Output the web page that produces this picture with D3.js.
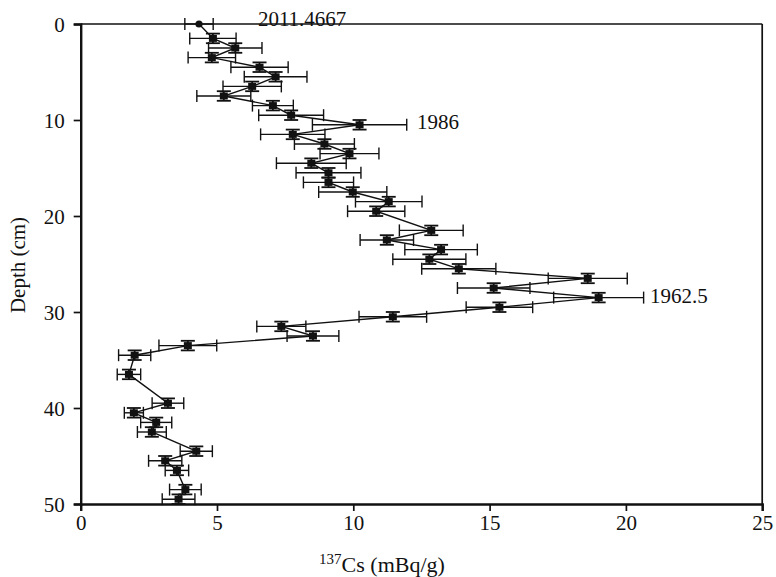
<!DOCTYPE html>
<html>
<head>
<meta charset="utf-8">
<script src="https://cdn.jsdelivr.net/npm/d3@7/dist/d3.min.js"></script>
<style>
  html, body { margin: 0; padding: 0; background: #fff; }
  svg { display: block; }
  text { font-family: "Liberation Serif", "DejaVu Serif", serif; fill: #111; }
</style>
</head>
<body>
<div id="chart"></div>
<script>
// 137Cs activity profile of a sediment core (depth in cm, activity in mBq/g)
const depth = [0, 1.5, 2.5, 3.5, 4.5, 5.5, 6.5, 7.5, 8.5, 9.5, 10.5, 11.5, 12.5, 13.5,
  14.5, 15.5, 16.5, 17.5, 18.5, 19.5, 21.5, 22.5, 23.5, 24.5, 25.5, 26.5, 27.5, 28.5,
  29.5, 30.5, 31.5, 32.5, 33.5, 34.5, 36.5, 39.5, 40.5, 41.5, 42.5, 44.5, 45.5, 46.5,
  48.5, 49.5];
const cs = [4.34, 4.85, 5.67, 4.81, 6.56, 7.15, 6.29, 5.25, 7.05, 7.72, 10.23, 7.78, 8.94, 9.86,
  8.46, 9.09, 9.09, 9.98, 11.3, 10.84, 12.86, 11.23, 13.22, 12.79, 13.87, 18.6, 15.15, 19.0,
  15.36, 11.45, 7.36, 8.52, 3.93, 1.98, 1.77, 3.2, 1.95, 2.77, 2.61, 4.24, 3.1, 3.53,
  3.84, 3.59];
const csErr = [0.52, 0.85, 0.98, 0.87, 1.05, 1.15, 1.07, 0.99, 0.75, 1.19, 1.73, 1.18, 1.1, 1.08,
  1.28, 1.19, 0.92, 1.25, 1.22, 1.05, 1.17, 0.98, 1.33, 1.34, 1.36, 1.45, 1.33, 1.65,
  1.22, 1.24, 0.9, 0.95, 1.06, 0.59, 0.43, 0.58, 0.35, 0.57, 0.53, 0.59, 0.61, 0.43,
  0.58, 0.6];
const depthErr = 0.5;

// dating markers
const markerLabels = ["2011.4667", "1986", "1962.5"];
const markerValue = [6.5, 12.34, 20.88];
const markerDepth = [0.2, 10.9, 29.1];

const xTicks = [0, 5, 10, 15, 20, 25];
const yTicks = [0, 10, 20, 30, 40, 50];

const W = 776, H = 577;
const plotL = 80.7, plotR = 762.2, plotT = 24, plotB = 504;

const svg = d3.select("#chart").append("svg")
  .attr("width", W).attr("height", H);

const x = d3.scaleLinear().domain([0, 25]).range([plotL, plotR]);
const y = d3.scaleLinear().domain([0, 50]).range([plotT, plotB]);

const pts = depth.map((d, i) => ({ d, v: cs[i], e: csErr[i], i }));

// frame: top and right borders
svg.append("line").attr("x1", plotL).attr("x2", plotR).attr("y1", plotT).attr("y2", plotT)
  .attr("stroke", "#111").attr("stroke-width", 1.7);
svg.append("line").attr("x1", plotR).attr("x2", plotR).attr("y1", plotT).attr("y2", plotB)
  .attr("stroke", "#111").attr("stroke-width", 1.7);

// axes
const fs = 21;
const xAxis = svg.append("g").attr("transform", `translate(0,${plotB})`)
  .call(d3.axisBottom(x).tickValues(xTicks).tickFormat(d3.format("d")).tickSize(7).tickPadding(4));
const yAxis = svg.append("g").attr("transform", `translate(${plotL},0)`)
  .call(d3.axisLeft(y).tickValues(yTicks).tickFormat(d3.format("d")).tickSize(7).tickPadding(9));
[xAxis, yAxis].forEach(g => {
  g.select(".domain").attr("stroke", "#111").attr("stroke-width", 2.4);
  g.selectAll(".tick line").attr("stroke", "#111").attr("stroke-width", 1.7);
  g.selectAll(".tick text").attr("font-size", fs)
    .attr("font-family", "'Liberation Serif', serif").attr("fill", "#111");
});
yAxis.selectAll(".tick text").attr("dy", "0.34em");

// axis titles
const xt = svg.append("text").attr("x", 382).attr("y", 572)
  .attr("text-anchor", "middle").attr("font-size", 22);
xt.append("tspan").attr("font-size", 15).attr("dy", -8).text("137");
xt.append("tspan").attr("dy", 8).text("Cs (mBq/g)");

svg.append("text")
  .attr("transform", `translate(25,${(plotT + plotB) / 2 + 1}) rotate(-90)`)
  .attr("text-anchor", "middle").attr("font-size", fs).text("Depth (cm)");

// connecting line
svg.append("path").datum(pts)
  .attr("fill", "none").attr("stroke", "#111").attr("stroke-width", 1.4)
  .attr("d", d3.line().x(p => x(p.v)).y(p => y(p.d)));

// horizontal error bars
const hb = svg.append("g").attr("stroke", "#111").attr("stroke-width", 1.4);
const capH = 6;
pts.forEach(p => {
  const yy = y(p.d), x0 = x(p.v - p.e), x1 = x(p.v + p.e);
  hb.append("line").attr("x1", x0).attr("x2", x1).attr("y1", yy).attr("y2", yy);
  hb.append("line").attr("x1", x0).attr("x2", x0).attr("y1", yy - capH).attr("y2", yy + capH);
  hb.append("line").attr("x1", x1).attr("x2", x1).attr("y1", yy - capH).attr("y2", yy + capH);
});

// vertical error bars (all except the surface sample)
const capW = 7;
pts.filter(p => p.i > 0).forEach(p => {
  const xx = x(p.v), y0 = y(p.d - depthErr), y1 = y(p.d + depthErr);
  hb.append("line").attr("x1", xx).attr("x2", xx).attr("y1", y0).attr("y2", y1).attr("stroke-width", 1.8);
  hb.append("line").attr("x1", xx - capW).attr("x2", xx + capW).attr("y1", y0).attr("y2", y0).attr("stroke-width", 1.8);
  hb.append("line").attr("x1", xx - capW).attr("x2", xx + capW).attr("y1", y1).attr("y2", y1).attr("stroke-width", 1.8);
});

// markers
svg.append("g").selectAll("rect").data(pts.filter(p => p.i > 0)).join("rect")
  .attr("x", p => x(p.v) - 4).attr("y", p => y(p.d) - 3.5).attr("width", 8).attr("height", 7)
  .attr("fill", "#111");
svg.append("circle").attr("cx", x(pts[0].v)).attr("cy", y(pts[0].d)).attr("r", 3.6).attr("fill", "#111");

// dating labels
svg.append("g").selectAll("text").data(markerLabels).join("text")
  .attr("x", (t, i) => x(markerValue[i])).attr("y", (t, i) => y(markerDepth[i]))
  .attr("font-size", fs).text(t => t);
</script>
</body>
</html>
